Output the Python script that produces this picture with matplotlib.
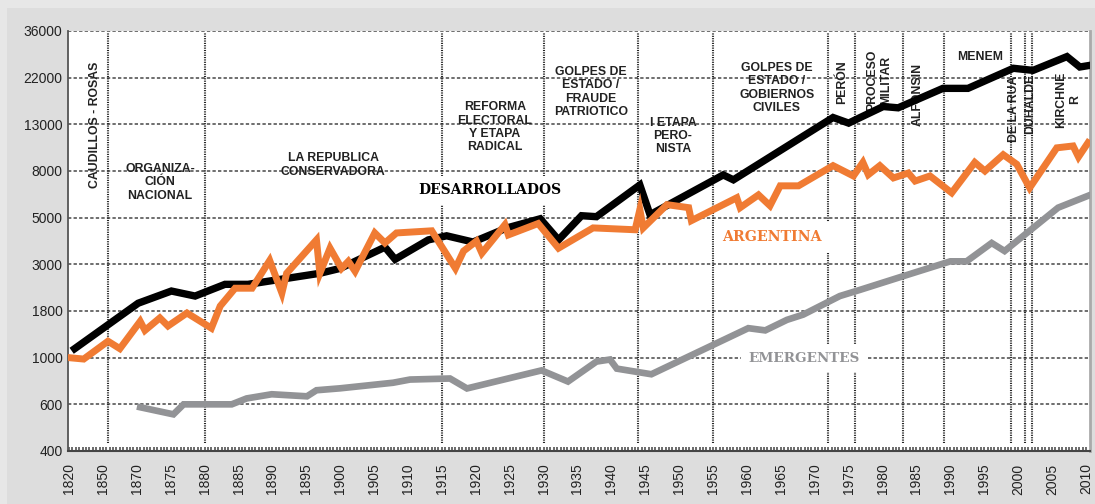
import numpy as np
import matplotlib
matplotlib.use('Agg')
import matplotlib.pyplot as plt
from matplotlib.patches import Rectangle

plt.rcParams['lines.scale_dashes'] = False

# axis ticks (equally spaced on the chart)
x_ticks = [1820, 1850] + list(range(1870, 2011, 5))
y_ticks = [400, 600, 1000, 1800, 3000, 5000, 8000, 13000, 22000, 36000]

# Argentina
arg_years = [1820, 1833, 1853, 1860, 1870.5, 1871.2, 1873.4, 1874.6, 1877.4, 1881, 1882.3, 1884.5, 1887,
             1889.6, 1891.4, 1892.1, 1896.5, 1897, 1898.5, 1900.2, 1901.2, 1902.2, 1905.1, 1906.6, 1908.3,
             1913.5, 1917, 1918.2, 1920.1, 1920.9, 1924.3, 1924.8, 1929.2, 1932.2, 1937.3, 1943.5, 1944.2,
             1944.7, 1948.2, 1951.4, 1951.8, 1958.5, 1959, 1961.7, 1963.4, 1964.9, 1967.6, 1972.7, 1975.7,
             1977.1, 1977.9, 1979.6, 1981.6, 1983.8, 1984.8, 1987, 1990.2, 1993.6, 1995.1, 1997.8, 1999.8,
             2001.7, 2005.7, 2008.1, 2008.9, 2010.3]
arg_vals = [1000, 985, 1230, 1120, 1580, 1410, 1650, 1490, 1755, 1450, 1900, 2310, 2310,
            3130, 2190, 2720, 3920, 2720, 3580, 2870, 3100, 2780, 4230, 3790, 4230,
            4330, 2870, 3470, 3870, 3390, 4630, 4140, 4690, 3580, 4470, 4380, 5420,
            4470, 5700, 5530, 4840, 6110, 5530, 6290, 5640, 6890, 6890, 8460, 7610,
            8750, 7710, 8460, 7460, 7840, 7230, 7610, 6420, 8750, 8000, 9480, 8580,
            6750, 10180, 10380, 9260, 10730]

# Desarrollados
des_years = [1825, 1870.2, 1875.1, 1878.6, 1883, 1886.4, 1897, 1900, 1906.6, 1908.1, 1913, 1915.7,
             1919.6, 1924.6, 1929.5, 1932.2, 1935.6, 1937.8, 1944.2, 1945.7, 1956.5, 1958, 1972.7,
             1975, 1976.7, 1980.1, 1982.3, 1988.9, 1992.6, 1999.3, 2002.2, 2007.2, 2009.1, 2010.3]
des_vals = [1120, 1960, 2240, 2120, 2410, 2410, 2720, 2870, 3620, 3170, 3920, 4100,
            3830, 4470, 4940, 3920, 5100, 5050, 6950, 5150, 7690, 7320, 14040,
            13180, 14040, 15890, 15660, 19500, 19500, 24290, 23760, 27480, 24620, 24970]

# Emergentes
eme_years = [1870.5, 1875.4, 1876.9, 1884, 1886.2, 1889.9, 1895.1, 1896.5, 1900, 1907.8, 1910.3, 1916.2,
             1918.7, 1929.7, 1933.6, 1937.8, 1939.8, 1940.8, 1945.9, 1960.2, 1962.7, 1965.9, 1968.3,
             1973.7, 1976.7, 1983.6, 1990, 1992.4, 1996.1, 1998, 2005.9, 2010.3]
eme_vals = [585, 550, 600, 600, 640, 670, 655, 700, 715, 760, 787, 796,
            714, 870, 770, 958, 980, 887, 834, 1450, 1410, 1610, 1720,
            2120, 2270, 2670, 3100, 3100, 3790, 3470, 5530, 6230]

# period boundaries
periods = [1853, 1880, 1915, 1930, 1944, 1955, 1972, 1976, 1983, 1989, 1999, 2001, 2002]

# period labels: (text, x frac, y frac, rotation)
period_labels = [
    ('CAUDILLOS - ROSAS', 0.0264, 0.776, 90),
    ('ORGANIZA-\nCIÓN\nNACIONAL', 0.090, 0.640, 0),
    ('LA REPUBLICA\nCONSERVADORA', 0.2593, 0.681, 0),
    ('REFORMA\nELECTORAL\nY ETAPA\nRADICAL', 0.4178, 0.771, 0),
    ('GOLPES DE\nESTADO /\nFRAUDE\nPATRIOTICO', 0.5117, 0.855, 0),
    ('I ETAPA\nPERO-\nNISTA', 0.592, 0.75, 0),
    ('GOLPES DE\nESTADO /\nGOBIERNOS\nCIVILES', 0.6937, 0.864, 0),
    ('PERÓN', 0.7573, 0.879, 90),
    ('PROCESO\nMILITAR', 0.7935, 0.883, 90),
    ('ALFONSIN', 0.8317, 0.848, 90),
    ('MENEM', 0.8924, 0.938, 0),
    ('DE LA RUA', 0.9256, 0.814, 90),
    ('DUHALDE', 0.9413, 0.826, 90),
    ('KIRCHNE\nR', 0.9785, 0.836, 90),
]

orange = '#f07b33'
grey = '#929396'

# scales: each tick interval gets the same width
xt = np.array([1810] + x_ticks + [2015], dtype=float)
xi = np.concatenate([[-1/3], np.arange(len(x_ticks)), [len(x_ticks)]])
yt = np.log10(np.array([400/1.5] + y_ticks + [36000*1.64]))
yi = np.arange(-1, len(y_ticks) + 1, dtype=float)

def xf(v):
    return np.interp(v, xt, xi)
def xinv(v):
    return np.interp(v, xi, xt)
def yf(v):
    return np.interp(np.log10(np.clip(v, 1e-9, None)), yt, yi)
def yinv(v):
    return 10 ** np.interp(v, yi, yt)

fig = plt.figure(figsize=(10.95, 5.04), dpi=100, facecolor='#e7e7e7')
fig.patches.append(Rectangle((7/1095, 0), 1, 1 - 8/504, transform=fig.transFigure,
                             facecolor='#dddddd', edgecolor='none', zorder=-10))
ax = fig.add_axes([68/1095, 53/504, 1022/1095, 420/504])
ax.set_xscale('function', functions=(xf, xinv))
ax.set_yscale('function', functions=(yf, yinv))
ax.set_xlim(1819.1, 2010.6)
ax.set_ylim(400, 36000)

for v in y_ticks[1:]:
    ax.axhline(v, color='#555555', lw=1.2, dashes=(2.4, 1.6), zorder=1)
for p in periods:
    ax.axvline(p, ymin=0.02, ymax=0.995, color='#222222', lw=1.5, dashes=(0.8, 0.9), zorder=1)

ax.plot(eme_years, eme_vals, color=grey, lw=4.8, solid_joinstyle='miter', zorder=3)
ax.plot(des_years, des_vals, color='black', lw=5.3, solid_joinstyle='miter', zorder=4)
ax.plot(arg_years, arg_vals, color=orange, lw=5.0, solid_joinstyle='miter', zorder=5)

for txt, fx, fy, rot in period_labels:
    ax.text(fx, fy, txt, transform=ax.transAxes, rotation=rot, ha='center', va='center',
            multialignment='center', fontsize=8.8, fontweight='bold', family='Liberation Sans',
            color='#222222', linespacing=1.15, zorder=2)

box = dict(boxstyle='square,pad=0.55', facecolor='white', edgecolor='none')
ax.text(0.4129, 0.621, 'DESARROLLADOS', transform=ax.transAxes, ha='center', va='center',
        fontsize=10, fontweight='bold', family='DejaVu Serif', color='black', bbox=box, zorder=2.5)
ax.text(0.6888, 0.5095, 'ARGENTINA', transform=ax.transAxes, ha='center', va='center',
        fontsize=10.2, fontweight='bold', family='DejaVu Serif', color=orange, bbox=box, zorder=2.5)
ax.text(0.7202, 0.2214, 'EMERGENTES', transform=ax.transAxes, ha='center', va='center',
        fontsize=9.7, fontweight='bold', family='DejaVu Serif', color=grey, bbox=box, zorder=2.5)

ax.set_xticks(x_ticks)
ax.set_xticklabels([str(t) for t in x_ticks], rotation=90, family='Liberation Sans', fontsize=10, color='#222222')
minor = np.concatenate([np.linspace(a, b, 11)[1:-1] for a, b in zip(x_ticks[:-1], x_ticks[1:])])
ax.set_xticks(minor, minor=True)
ax.set_yticks(y_ticks)
ax.set_yticklabels([str(t) for t in y_ticks], family='Liberation Sans', fontsize=10, color='#222222')
ax.set_yticks([], minor=True)
ax.tick_params(axis='x', which='both', direction='in', length=3, width=1.1, color='#444444', pad=9)
ax.tick_params(axis='y', which='both', length=0, pad=4)

ax.spines['top'].set_visible(False)
ax.spines['right'].set_color('#aaaaaa')
ax.spines['right'].set_linewidth(2)
ax.spines['left'].set_color('#555555')
ax.spines['left'].set_linewidth(1.3)
ax.spines['bottom'].set_color('#444444')
ax.spines['bottom'].set_linewidth(1.5)

fig.savefig('out.png', dpi=100, facecolor=fig.get_facecolor())
